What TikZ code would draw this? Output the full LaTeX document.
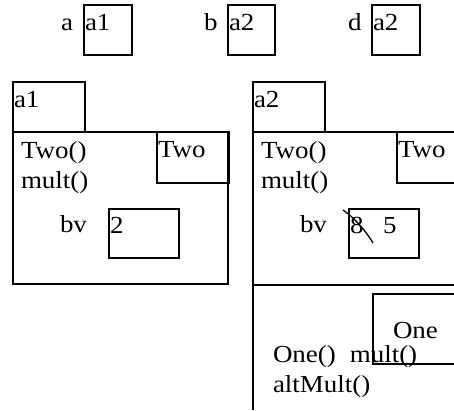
\documentclass[tikz,border=0pt]{standalone}
\usepackage{fontspec}
\setmainfont[FakeStretch=1.1]{Liberation Serif}
\begin{document}
\begin{tikzpicture}[x=1pt,y=-1pt,
  box/.style={draw=black,line width=1.3pt},
  txt/.style={anchor=base west,inner sep=0pt,outer sep=0pt,font=\fontsize{24.5}{29}\selectfont}]
\useasboundingbox (0,0) rectangle (454,410);
\clip (0,0) rectangle (454,410);
% top row
\node[txt] (la) at (61,30) {a};
\draw[box] (84,5) rectangle (132,55);
\node[txt] (va) at (85,30) {a1};
\node[txt] (lb) at (204,30) {b};
\draw[box] (228,5) rectangle (275,55);
\node[txt] (vb) at (229,30) {a2};
\node[txt] (ld) at (348,30) {d};
\draw[box] (372,5) rectangle (420,55);
\node[txt] (vd) at (373,30) {a2};
% left object
\draw[box] (13,82) rectangle (85,132);
\node[txt] (ta1) at (14,107) {a1};
\draw[box] (13,132) rectangle (228,284);
\draw[box] (157,132) rectangle (229,183);
\node[txt] (two1) at (158,157) {Two};
\node[txt] (ctor1) at (21,158) {Two()};
\node[txt] (mult1) at (21,188) {mult()};
\node[txt] (bv1) at (60,232) {bv};
\draw[box] (109,209) rectangle (179,258);
\node[txt] (v1) at (110,233) {2};
% right object
\draw[box] (253,82) rectangle (325,132);
\node[txt] (ta2) at (254,107) {a2};
\draw[box] (460,132) -- (253,132) -- (253,410);
\draw[box,line width=2pt] (253,285) -- (460,285);
\draw[box] (397,132) rectangle (470,183);
\node[txt] (two2) at (398,157) {Two};
\node[txt] (ctor2) at (261,158) {Two()};
\node[txt] (mult2) at (261,188) {mult()};
\node[txt] (bv2) at (300,232) {bv};
\draw[box] (349,209) rectangle (419,258);
\node[txt] (old) at (350,233) {8};
\node[txt] (new) at (383,233) {5};
\coordinate (s1) at (343,210);
\coordinate (s2) at (373,243);
\draw[line width=1.3pt] (s1) .. controls (352,216) and (364,228) .. (s2);
% One part
\draw[box] (373,294) rectangle (470,364);
\node[txt] (one) at (393,338) {One};
\node[txt] (ctor3) at (273,362) {One()\hspace{14pt}mult()};
\node[txt] (alt) at (273,392) {altMult()};
\end{tikzpicture}
\end{document}
